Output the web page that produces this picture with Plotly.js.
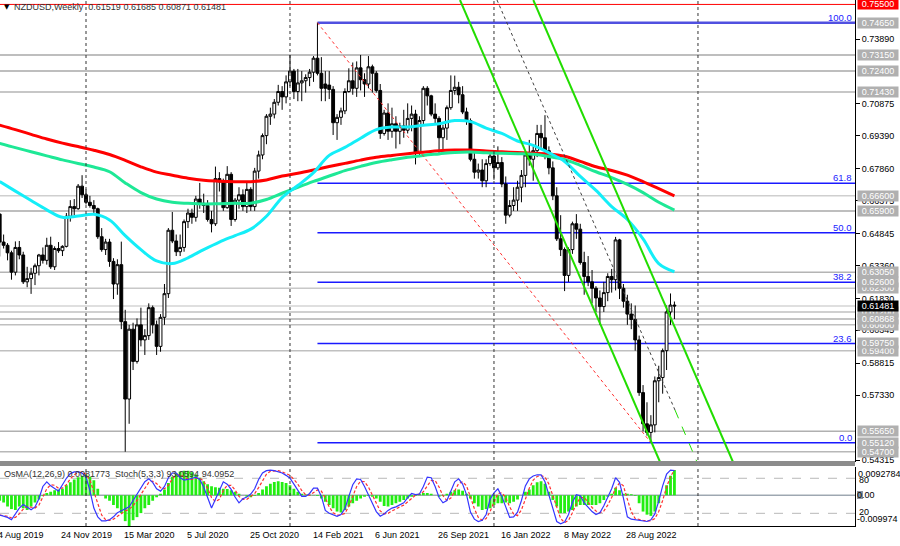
<!DOCTYPE html>
<html><head><meta charset="utf-8">
<script src="https://cdn.plot.ly/plotly-3.0.1.min.js"></script>
<style>html,body{margin:0;padding:0;background:#fff}#chart{width:900px;height:546px}</style>
</head><body><div id="chart"></div>
<script>
// ---------- DATA ----------
const symbolTitle = 'NZDUSD,Weekly';
const firstWeek = '2019-08-04';
const opens = [
0.6575,0.6445,0.6430,0.6395,0.6305,0.6420,0.6385,0.6260,0.6275,0.6300,
0.6335,0.6385,0.6360,0.6430,0.6330,0.6415,0.6405,0.6425,0.6565,0.6610,
0.6600,0.6705,0.6665,0.6630,0.6615,0.6600,0.6470,0.6410,0.6445,0.6355,
0.6250,0.6340,0.6075,0.5715,0.6040,0.5890,0.6060,0.5990,0.6010,0.6140,
0.6060,0.5960,0.6095,0.6205,0.6500,0.6450,0.6400,0.6420,0.6540,0.6580,
0.6560,0.6645,0.6625,0.6615,0.6550,0.6530,0.6740,0.6725,0.6605,0.6760,
0.6550,0.6640,0.6665,0.6610,0.6690,0.6610,0.6775,0.6850,0.6940,0.7030,
0.7040,0.7095,0.7145,0.7120,0.7190,0.7240,0.7145,0.7185,0.7195,0.7210,
0.7235,0.7300,0.7230,0.7180,0.7175,0.7155,0.7000,0.7025,0.7055,0.7145,
0.7195,0.7160,0.7255,0.7200,0.7180,0.7260,0.7230,0.7150,0.6950,0.7045,
0.6960,0.6995,0.6960,0.6985,0.6965,0.7020,0.7040,0.6860,0.7010,0.7160,
0.7125,0.7040,0.7020,0.6930,0.6975,0.7070,0.7150,0.7165,0.7130,0.7050,
0.7010,0.6830,0.6770,0.6780,0.6730,0.6810,0.6845,0.6790,0.6815,0.6715,
0.6570,0.6615,0.6640,0.6700,0.6755,0.6850,0.6830,0.6870,0.6950,0.6930,
0.6870,0.6790,0.6660,0.6460,0.6410,0.6290,0.6410,0.6530,0.6505,0.6350,
0.6285,0.6260,0.6230,0.6185,0.6145,0.6210,0.6285,0.6270,0.6455,0.6230,
0.6170,0.6110,0.6085,0.5990,0.5745,0.5600,0.5560,0.5595,0.5800,0.5815,
0.5940,0.6120,0.61519];
const highs = [
0.6580,0.6480,0.6440,0.6405,0.6448,0.6450,0.6400,0.6330,0.6325,0.6345,
0.6390,0.6420,0.6465,0.6470,0.6425,0.6445,0.6430,0.6580,0.6640,0.6645,
0.6715,0.6756,0.6690,0.6660,0.6640,0.6605,0.6510,0.6460,0.6460,0.6370,
0.6365,0.6447,0.6130,0.6060,0.6070,0.6090,0.6140,0.6040,0.6160,0.6150,
0.6080,0.6110,0.6250,0.6510,0.6585,0.6480,0.6480,0.6550,0.6600,0.6600,
0.6660,0.6720,0.6670,0.6640,0.6590,0.6796,0.6770,0.6740,0.6798,0.6770,
0.6650,0.6700,0.6690,0.6720,0.6700,0.6790,0.6870,0.6950,0.7040,0.7070,
0.7110,0.7176,0.7170,0.7220,0.7315,0.7250,0.7250,0.7240,0.7225,0.7250,
0.7310,0.7465,0.7305,0.7240,0.7240,0.7170,0.7040,0.7070,0.7160,0.7253,
0.7280,0.7285,0.7315,0.7230,0.7310,0.7270,0.7240,0.7180,0.7060,0.7090,
0.7070,0.7030,0.7000,0.7060,0.7090,0.7080,0.7060,0.7030,0.7170,0.7170,
0.7130,0.7090,0.7030,0.6990,0.7080,0.7220,0.7219,0.7190,0.7170,0.7070,
0.7020,0.6870,0.6810,0.6830,0.6830,0.6860,0.6860,0.6890,0.6840,0.6750,
0.6640,0.6700,0.6730,0.6780,0.6870,0.6920,0.6890,0.6990,0.6990,0.7035,
0.6890,0.6820,0.6700,0.6570,0.6420,0.6420,0.6540,0.6575,0.6530,0.6400,
0.6380,0.6315,0.6240,0.6220,0.6260,0.6300,0.6320,0.6469,0.6460,0.6250,
0.6200,0.6160,0.6150,0.6010,0.5780,0.5700,0.5640,0.5820,0.5870,0.5950,
0.6150,0.6206,0.61685];
const lows = [
0.6378,0.6415,0.6360,0.6270,0.6290,0.6365,0.6250,0.6235,0.6204,0.6245,
0.6290,0.6345,0.6340,0.6320,0.6315,0.6395,0.6380,0.6420,0.6540,0.6570,
0.6595,0.6650,0.6620,0.6605,0.6580,0.6460,0.6400,0.6385,0.6330,0.6180,
0.6200,0.6040,0.5470,0.5600,0.5850,0.5880,0.5960,0.5920,0.5990,0.6020,
0.5920,0.5935,0.6060,0.6185,0.6440,0.6380,0.6380,0.6400,0.6510,0.6530,
0.6540,0.6600,0.6580,0.6540,0.6490,0.6520,0.6680,0.6590,0.6600,0.6520,
0.6540,0.6600,0.6590,0.6580,0.6590,0.6590,0.6740,0.6830,0.6900,0.6990,
0.7020,0.7080,0.7060,0.7090,0.7170,0.7110,0.7100,0.7100,0.7140,0.7170,
0.7190,0.7220,0.7100,0.7100,0.7110,0.6943,0.6920,0.6990,0.7040,0.7140,
0.7130,0.7120,0.7150,0.7120,0.7160,0.7140,0.7140,0.6925,0.6940,0.6920,
0.6930,0.6880,0.6900,0.6930,0.6950,0.6960,0.6806,0.6840,0.6990,0.7080,
0.7030,0.6990,0.6860,0.6870,0.6920,0.7060,0.7130,0.7090,0.7040,0.6990,
0.6820,0.6740,0.6740,0.6700,0.6700,0.6800,0.6735,0.6780,0.6700,0.6530,
0.6560,0.6590,0.6590,0.6630,0.6700,0.6800,0.6730,0.6840,0.6880,0.6830,
0.6760,0.6640,0.6450,0.6380,0.6217,0.6260,0.6390,0.6460,0.6340,0.6200,
0.6240,0.6160,0.6120,0.6060,0.6120,0.6170,0.6210,0.6220,0.6180,0.6140,
0.6060,0.6040,0.5940,0.5730,0.5565,0.5545,0.5512,0.5560,0.5700,0.5740,
0.5850,0.6060,0.60871];
const closes = [
0.6445,0.6430,0.6395,0.6305,0.6420,0.6385,0.6260,0.6275,0.6300,0.6335,
0.6385,0.6360,0.6430,0.6330,0.6415,0.6405,0.6425,0.6565,0.6610,0.6600,
0.6705,0.6665,0.6630,0.6615,0.6600,0.6470,0.6410,0.6445,0.6355,0.6250,
0.6340,0.6075,0.5715,0.6040,0.5890,0.6060,0.5990,0.6010,0.6140,0.6060,
0.5960,0.6095,0.6205,0.6500,0.6450,0.6400,0.6420,0.6540,0.6580,0.6560,
0.6645,0.6625,0.6615,0.6550,0.6530,0.6740,0.6725,0.6605,0.6760,0.6550,
0.6640,0.6665,0.6610,0.6690,0.6610,0.6775,0.6850,0.6940,0.7030,0.7040,
0.7095,0.7145,0.7120,0.7190,0.7240,0.7145,0.7185,0.7195,0.7210,0.7235,
0.7300,0.7230,0.7160,0.7160,0.7155,0.7000,0.7025,0.7055,0.7145,0.7195,
0.7160,0.7255,0.7200,0.7180,0.7260,0.7230,0.7150,0.6950,0.7045,0.6960,
0.6995,0.6960,0.6985,0.6965,0.7020,0.7040,0.6860,0.7010,0.7160,0.7125,
0.7040,0.7020,0.6930,0.6975,0.7070,0.7150,0.7165,0.7130,0.7050,0.7010,
0.6830,0.6770,0.6780,0.6730,0.6810,0.6845,0.6790,0.6815,0.6715,0.6570,
0.6615,0.6640,0.6700,0.6755,0.6850,0.6830,0.6870,0.6950,0.6930,0.6870,
0.6790,0.6660,0.6460,0.6410,0.6290,0.6410,0.6530,0.6505,0.6350,0.6285,
0.6260,0.6230,0.6185,0.6145,0.6210,0.6285,0.6270,0.6455,0.6230,0.6170,
0.6110,0.6085,0.5990,0.5745,0.5600,0.5560,0.5595,0.5800,0.5815,0.5940,
0.6120,0.6152,0.61481];

// moving averages, read every 4th week
const maWeekIdx = [0,4,8,12,16,20,24,28,32,36,40,44,48,52,56,60,64,68,72,76,80,84,88,92,96,100,104,108,112,116,120,124,128,132,136,140,144,148,152,156,160,164,168,172];
const emaRed = [0.6989,0.6968,0.6946,0.6924,0.6905,0.6889,0.6872,0.6852,0.6825,0.6795,0.6770,0.6756,0.6742,0.6732,0.6728,0.6726,0.6726,0.6734,0.6752,0.6765,0.6780,0.6796,0.6811,0.6826,0.6839,0.6848,0.6856,0.6863,0.6870,0.6873,0.6873,0.6868,0.6865,0.6861,0.6858,0.6855,0.6844,0.6820,0.6795,0.6778,0.6756,0.6726,0.6693,0.6660];
const emaGreen = [0.6904,0.6884,0.6865,0.6846,0.6827,0.6810,0.6794,0.6772,0.6720,0.6675,0.6645,0.6630,0.6625,0.6622,0.6623,0.6625,0.6626,0.6643,0.6672,0.6700,0.6727,0.6752,0.6777,0.6797,0.6815,0.6828,0.6839,0.6848,0.6855,0.6862,0.6864,0.6860,0.6858,0.6856,0.6853,0.6843,0.6829,0.6802,0.6772,0.6745,0.6713,0.6675,0.6630,0.6594];
const emaCyan = [0.6726,0.6682,0.6638,0.6595,0.6560,0.6566,0.6574,0.6548,0.6475,0.6410,0.6357,0.6345,0.6372,0.6410,0.6445,0.6475,0.6505,0.6565,0.6652,0.6708,0.6768,0.6848,0.6885,0.6928,0.6968,0.6980,0.6980,0.6988,0.6995,0.7010,0.7005,0.6975,0.6950,0.6915,0.6895,0.6860,0.6820,0.6750,0.6685,0.6610,0.6550,0.6460,0.6345,0.6307];

// OsMA(12,26,9)
const osma = [
-0.0018,-0.0024,-0.0037,-0.0045,-0.0048,-0.0037,-0.0042,-0.0048,-0.0037,-0.0024,
-0.0014,-0.0003,0.0007,0.0011,0.0016,0.0018,0.0021,0.0032,0.0042,0.0051,
0.0058,0.0063,0.0067,0.0060,0.0048,0.0021,0.0000,-0.0011,-0.0018,-0.0032,
-0.0042,-0.0058,-0.0084,-0.00997,-0.0081,-0.0071,-0.0058,-0.0042,-0.0032,-0.0018,
-0.0007,0.0005,0.0018,0.0039,0.0060,0.0071,0.0077,0.0079,0.0079,0.0074,
0.0067,0.0056,0.0045,0.0035,0.0029,0.0026,0.0024,0.0021,0.0020,0.0016,
0.0011,0.0005,0.0000,-0.0005,-0.0007,-0.0003,0.0007,0.0018,0.0029,0.0037,
0.0043,0.0045,0.0043,0.0039,0.0032,0.0021,0.0011,0.0005,0.0002,0.0001,
-0.0001,-0.0003,-0.0011,-0.0021,-0.0032,-0.0042,-0.0053,-0.0056,-0.0048,-0.0037,
-0.0026,-0.0018,-0.0011,-0.0005,-0.0003,-0.0005,-0.0011,-0.0021,-0.0035,-0.0037,
-0.0032,-0.0026,-0.0021,-0.0016,-0.0011,-0.0005,-0.0003,0.0005,0.0007,0.0007,
0.0005,0.0000,-0.0005,-0.0003,0.0005,0.0011,0.0016,0.0018,0.0014,0.0005,
-0.0011,-0.0026,-0.0037,-0.0048,-0.0045,-0.0042,-0.0032,-0.0026,-0.0026,-0.0024,
-0.0026,-0.0021,-0.0014,0.0000,0.0011,0.0018,0.0032,0.0042,0.0045,0.0037,
0.0011,-0.0016,-0.0037,-0.0058,-0.0058,-0.0053,-0.0048,-0.0037,-0.0032,-0.0032,
-0.0032,-0.0032,-0.0032,-0.0026,-0.0016,-0.0005,0.0005,0.0024,0.0016,0.0005,
0.0005,0.0003,-0.0003,-0.0026,-0.0053,-0.0063,-0.0067,-0.0053,-0.0026,0.0000,
0.0032,0.0063,0.0081773];
// Stochastic(5,3,3) main and signal
const stochMain = [
17,15,13,9,18,29,35,31,26,31, 45,66,74,67,63,58,69,80,88,91,
91,89,82,59,29,14,7,7,9,14, 21,24,27,31,42,53,65,74,79,73,
62,58,66,81,89,89,81,77,78,80, 82,78,65,47,29,44,59,74,70,61,
48,38,45,48,53,62,78,89,93,94, 93,91,89,85,80,70,59,49,49,54,
63,63,49,25,20,17,15,18,28,49, 69,79,78,66,51,35,23,15,19,25,
29,31,34,38,47,54,52,53,66,82, 81,66,47,38,42,59,74,79,70,52,
22,10,6,8,18,44,55,62,49,31, 13,14,22,42,67,79,84,86,86,74,
51,26,6,2,5,18,39,52,50,38, 30,23,18,21,33,47,62,81,73,46,
14,10,9,9,7,6,9,19,41,67, 87,94,93.0594];
const stochSignal = [
17,16,15,12,13,19,27,32,31,29, 34,47,62,69,68,63,63,69,79,86,
90,90,87,77,57,34,17,9,8,10, 15,20,24,27,33,42,53,64,73,75,
71,64,62,68,79,86,86,82,79,78, 80,80,75,63,47,40,44,59,68,68,
60,49,44,44,49,54,64,76,87,92, 93,93,91,88,85,78,70,59,52,51,
55,60,58,46,31,21,17,17,20,32, 49,66,75,74,65,51,36,24,19,20,
24,28,31,34,40,46,51,53,57,67, 76,76,65,50,42,46,58,71,74,67,
48,28,13,8,11,23,39,54,55,47, 31,19,16,26,44,63,77,83,85,82,
70,50,28,11,4,8,21,36,47,47, 39,30,24,21,24,34,47,63,72,67,
44,23,11,9,8,7,7,11,23,42, 65,83,94.0952];

// horizontal levels and labels
const levelPrices = [0.7315,0.7240,0.7143,0.6660,0.6590,0.6305,0.6230,0.61481,0.6120,0.60868,0.6060,0.5940,0.5565,0.5470];
const levelColors = ['#a8a8a8','#a8a8a8','#b4b4b4','#cfcfcf','#a8a8a8','#b4b4b4','#c8c8c8','#d4d4d4','#c0c0c0','#b0b0b0','#c0c0c0','#c0c0c0','#b0b0b0','#b8b8b8'];
const fibPrices = [0.7465,0.67189,0.64885,0.62580,0.59729,0.5512];
const fibNames = ['100.0','61.8','50.0','38.2','23.6','0.0'];
const fibStart = '2021-02-21';
const fibEnd = '2022-10-09';
const resistance = 0.7550;
const grayLabels = [
  [0.7465,'0.74650'],[0.7315,'0.73150'],[0.7240,'0.72400'],[0.7143,'0.71430'],
  [0.6660,'0.66600'],[0.6590,'0.65900'],[0.6305,'0.63050'],[0.6230,'0.62300'],[0.6260,'0.62600'],
  [0.6120,'0.61200'],[0.6060,'0.60600'],[0.60868,'0.60868'],[0.5940,'0.59400'],[0.5975,'0.59750'],
  [0.5565,'0.55650'],[0.5512,'0.55120'],[0.5470,'0.54700']];
const lastPrice = 0.61481;
const priceTicks = [0.73890,0.70875,0.69390,0.67860,0.66375,0.64845,0.63360,0.61830,0.60345,0.58815,0.57330,0.54315];
const priceTickText = ['0.73890','0.70875','0.69390','0.67860','0.66375','0.64845','0.63360','0.61830','0.60345','0.58815','0.57330','0.54315'];
const dateTickVals = ['2019-08-04','2019-11-24','2020-03-15','2020-07-05','2020-10-25','2021-02-14','2021-06-06','2021-09-26','2022-01-16','2022-05-08','2022-08-28'];
const dateTickText = ['4 Aug 2019','24 Nov 2019','15 Mar 2020','5 Jul 2020','25 Oct 2020','14 Feb 2021','6 Jun 2021','26 Sep 2021','16 Jan 2022','8 May 2022','28 Aug 2022'];
const yearLines = ['2020-01-05','2021-01-03','2022-01-02','2023-01-01'];
// trend channel lines [date0, price0, date1, price1]
const channelGreen = [['2021-11-02 08:00',0.75706,'2022-10-25 07:00',0.54223],['2022-03-13 04:00',0.75706,'2023-03-04 12:00',0.54223]];
const channelDark = ['2022-01-07 09:00',0.75706,'2022-11-21 00:00',0.5664];
const channelDarkExt = ['2022-11-21 00:00',0.5664,'2022-12-30 07:00',0.54223];
const xRange = ['2019-08-04 13:00','2023-10-08 05:00'];
const legendMain = [0.61519,0.61685,0.60871,0.61481];
const osmaRange = [-0.009974,0.0092784];

// ---------- BUILD ----------
const DAY = 86400000;
const t0 = Date.parse(firstWeek + 'T00:00:00Z');
const weekDate = i => new Date(t0 + i*7*DAY).toISOString().slice(0,10);
const dates = opens.map((_,i)=>weekDate(i));
const maDates = maWeekIdx.map(weekDate);
const FONT = '"Liberation Sans", Arial, sans-serif';
const PW = 855, PH = 526;
const px = x => x/PW;
const py = y => (PH - y)/PH;

const traces = [
  {type:'candlestick', x:dates, open:opens, high:highs, low:lows, close:closes, xaxis:'x', yaxis:'y',
   increasing:{line:{color:'#000',width:1}, fillcolor:'#ffffff'},
   decreasing:{line:{color:'#000',width:1}, fillcolor:'#000000'},
   whiskerwidth:0, hoverinfo:'skip', showlegend:false},
  {type:'scatter', mode:'lines', x:maDates, y:emaRed, line:{color:'#ff0000',width:3,shape:'spline'}, xaxis:'x', yaxis:'y', hoverinfo:'skip'},
  {type:'scatter', mode:'lines', x:maDates, y:emaGreen, line:{color:'#1ee896',width:3,shape:'spline'}, xaxis:'x', yaxis:'y', hoverinfo:'skip'},
  {type:'scatter', mode:'lines', x:maDates, y:emaCyan, line:{color:'#14eef8',width:3,shape:'spline'}, xaxis:'x', yaxis:'y', hoverinfo:'skip'},
  {type:'bar', x:dates, y:osma, xaxis:'x2', yaxis:'y2', width:5*DAY, marker:{color:'#22ee11', line:{width:0}}, hoverinfo:'skip'},
  {type:'scatter', mode:'lines', x:dates, y:stochSignal, xaxis:'x2', yaxis:'y3', line:{color:'#ff3030',width:1.2,dash:'3px,2px'}, hoverinfo:'skip'},
  {type:'scatter', mode:'lines', x:dates, y:stochMain, xaxis:'x2', yaxis:'y3', line:{color:'#3535ff',width:1.2}, hoverinfo:'skip'}
];

const shapes = [];
levelPrices.forEach((p,k)=>shapes.push({type:'line', xref:'paper', yref:'y', x0:0, x1:1, y0:p, y1:p, line:{color:levelColors[k], width:1.5}, layer:'below'}));
shapes.push({type:'line', xref:'paper', yref:'y', x0:0, x1:1, y0:resistance, y1:resistance, line:{color:'#ff0000', width:1}, layer:'below'});
fibPrices.forEach((p,k)=>shapes.push({type:'line', xref:'x', yref:'y', x0:fibStart, x1:xRange[1], y0:p, y1:p,
  line:{color: k===0 ? '#5050e0' : '#1a1aff', width: k===0 ? 2.5 : 1.5}, layer:'below'}));
shapes.push({type:'line', xref:'x', yref:'y', x0:fibStart, y0:fibPrices[0], x1:fibEnd, y1:fibPrices[5], line:{color:'#ff3030', width:1, dash:'dot'}, layer:'above'});
yearLines.forEach(d=>shapes.push({type:'line', xref:'x', yref:'paper', x0:d, x1:d, y0:0, y1:1, line:{color:'#333', width:1, dash:'dot'}, layer:'above'}));
channelGreen.forEach(c=>shapes.push({type:'line', xref:'x', yref:'y', x0:c[0], y0:c[1], x1:c[2], y1:c[3], line:{color:'#22dd00', width:2}, layer:'above'}));
shapes.push({type:'line', xref:'x', yref:'y', x0:channelDark[0], y0:channelDark[1], x1:channelDark[2], y1:channelDark[3], line:{color:'#404040', width:1, dash:'dot'}, layer:'above'});
shapes.push({type:'line', xref:'x', yref:'y', x0:channelDarkExt[0], y0:channelDarkExt[1], x1:channelDarkExt[2], y1:channelDarkExt[3], line:{color:'#22dd00', width:1, dash:'dash'}, layer:'above'});
// lower panel levels
shapes.push({type:'line', xref:'paper', yref:'y3', x0:0, x1:1, y0:80, y1:80, line:{color:'#b8b8b8', width:1, dash:'dash'}, layer:'below'});
shapes.push({type:'line', xref:'paper', yref:'y3', x0:0, x1:1, y0:20, y1:20, line:{color:'#b8b8b8', width:1, dash:'dash'}, layer:'below'});
shapes.push({type:'line', xref:'paper', yref:'y2', x0:0, x1:1, y0:0, y1:0, line:{color:'#6f7d8c', width:1}, layer:'below'});
// separator bar between panels
shapes.push({type:'rect', xref:'paper', yref:'paper', x0:0, x1:1, y0:py(466), y1:py(461), fillcolor:'#8c8c8c', line:{width:0}, layer:'above'});
// small gray box behind 0.00
shapes.push({type:'rect', xref:'paper', yref:'paper', x0:px(857), x1:px(863), y0:py(499), y1:py(491), fillcolor:'#8c96a0', line:{width:0}, layer:'above'});

const annotations = [];
const boxAnn = (p, txt, bg, fg) => annotations.push({xref:'paper', yref:'y', x:px(857), y:p, xanchor:'left', yanchor:'middle',
  text:txt, showarrow:false, bgcolor:bg, font:{family:FONT,size:9,color:fg}, width:40, height:10, borderpad:0, align:'center', valign:'middle'});
grayLabels.forEach(g=>boxAnn(g[0], g[1], '#b0b0b0', '#ffffff'));
boxAnn(lastPrice, lastPrice.toFixed(5), '#000000', '#ffffff');
boxAnn(resistance, resistance.toFixed(5), '#ff0000', '#ffffff');
fibNames.forEach((n,k)=>annotations.push({xref:'paper', yref:'y', x:px(853), y:fibPrices[k], xanchor:'right', yanchor:'bottom',
  text:n, showarrow:false, font:{family:FONT,size:9.5,color:'#2222ff'}, borderpad:0, yshift:-1}));
// legends
annotations.push({xref:'paper', yref:'paper', x:px(2), y:py(7), xanchor:'left', yanchor:'middle', text:'\u25BC', showarrow:false, font:{family:'DejaVu Sans',size:7,color:'#000'}});
annotations.push({xref:'paper', yref:'paper', x:px(12), y:py(7), xanchor:'left', yanchor:'middle', showarrow:false,
  text: symbolTitle + '\u00a0 ' + legendMain.map(v=>v.toFixed(5)).join(' '), font:{family:FONT,size:9,color:'#333'}});
annotations.push({xref:'paper', yref:'paper', x:px(2), y:py(474), xanchor:'left', yanchor:'middle', showarrow:false,
  text:'OsMA(12,26,9) ' + osma[osma.length-1].toFixed(7) + '\u00a0 Stoch(5,3,3) ' + stochMain[stochMain.length-1].toFixed(4) + ' ' + stochSignal[stochSignal.length-1].toFixed(4),
  font:{family:FONT,size:9,color:'#333'}});
// lower panel axis labels
const lowLab = (y, txt, x) => annotations.push({xref:'paper', yref:'paper', x:px(x), y:py(y), xanchor:'left', yanchor:'middle', text:txt, showarrow:false, font:{family:FONT,size:9,color:'#000'}, borderpad:0});
lowLab(473.5, osmaRange[1].toFixed(7), 857);
lowLab(480, '80', 858);
lowLab(495, '0.00', 856);
lowLab(512, '20', 858);
lowLab(519, osmaRange[0].toFixed(6), 856);
// date labels (first one sits at the left edge of the visible range)
dateTickVals.forEach((d,k)=>annotations.push({xref:'x2', yref:'paper', x: k===0 ? xRange[0] : d, y:py(535), xanchor:'left', yanchor:'middle', xshift: k===0 ? -4 : -3,
  text:dateTickText[k], showarrow:false, font:{family:FONT,size:9,color:'#000'}}));

const layout = {
  width:900, height:546, margin:{l:0,r:45,t:0,b:20},
  paper_bgcolor:'#ffffff', plot_bgcolor:'#ffffff', showlegend:false,
  font:{family:FONT,size:9,color:'#000'},
  boxgap:0.15, boxgroupgap:0.15,
  xaxis:{type:'date', range:xRange, domain:[0,1], anchor:'y', showticklabels:false, showgrid:false, zeroline:false, showline:false, ticks:'', rangeslider:{visible:false}},
  yaxis:{domain:[py(462),1], range:[0.54223,0.75706], side:'right', anchor:'x', showgrid:false, zeroline:false, showline:true, linecolor:'#000', linewidth:1,
         ticks:'outside', ticklen:4, tickcolor:'#000', tickvals:priceTicks, ticktext:priceTickText, tickfont:{family:FONT,size:9,color:'#000'}},
  xaxis2:{type:'date', matches:'x', anchor:'y2', domain:[0,1], showticklabels:false, showgrid:false, zeroline:false, showline:true, linecolor:'#000', linewidth:1, ticks:''},
  yaxis2:{domain:[0,py(466.5)], range:osmaRange, side:'right', anchor:'x2', showgrid:false, zeroline:false, showline:true, linecolor:'#000', linewidth:1, showticklabels:false, ticks:''},
  yaxis3:{overlaying:'y2', anchor:'x2', range:[-1.71,100.17], side:'right', showgrid:false, zeroline:false, showticklabels:false, showline:false, ticks:''},
  shapes:shapes, annotations:annotations
};
Plotly.newPlot('chart', traces, layout, {displayModeBar:false, staticPlot:true});
</script></body></html>
